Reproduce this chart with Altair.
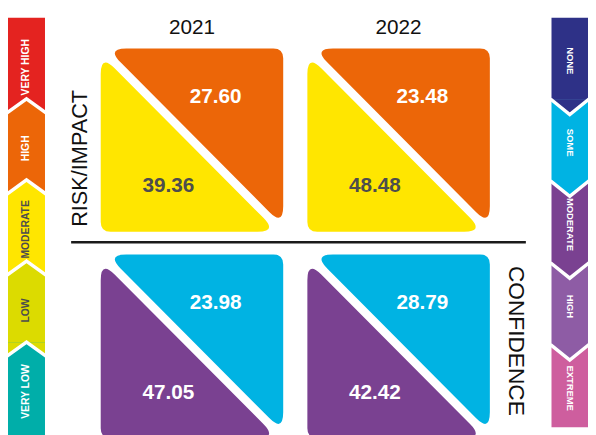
import math
import altair as alt
import pandas as pd

# ---------------- data ----------------
years = ["2021", "2022"]
metrics = ["RISK/IMPACT", "CONFIDENCE"]

cell_year = ["2021", "2022", "2021", "2022"]
cell_metric = ["RISK/IMPACT", "RISK/IMPACT", "CONFIDENCE", "CONFIDENCE"]
upper_vals = [27.60, 23.48, 23.98, 28.79]
lower_vals = [39.36, 48.48, 47.05, 42.42]

left_levels = ["VERY HIGH", "HIGH", "MODERATE", "LOW", "VERY LOW"]
right_levels = ["NONE", "SOME", "MODERATE", "HIGH", "EXTREME"]

# ---------------- styles ----------------
FONT = "Liberation Sans"
ORANGE, YELLOW, CYAN, PURPLE = "#EC6608", "#FFE600", "#00B3E3", "#7A4191"
GRAY = "#4D4D4D"
left_colors = ["#E42320", "#EC6608", "#FFE600", "#DCDB00", "#00AEA9"]
left_text_colors = ["white", "white", GRAY, GRAY, "white"]
right_colors = ["#2E3187", "#00B3E3", "#7A4191", "#8E5CA5", "#CE5E9E"]

W, H = 588, 427
HW, HH, GAP = 92.5, 93.0, 6.0


def rpath(pts, ts):
    n = len(pts)
    segs = []
    for i in range(n):
        px, py = pts[i]
        qx, qy = pts[i - 1]
        nx, ny = pts[(i + 1) % n]
        t = ts[i]
        d1 = math.hypot(qx - px, qy - py)
        d2 = math.hypot(nx - px, ny - py)
        a = (px + (qx - px) / d1 * t, py + (qy - py) / d1 * t)
        b = (px + (nx - px) / d2 * t, py + (ny - py) / d2 * t)
        segs.append((a, (px, py), b))
    f = lambda p: f"{p[0]:.2f} {p[1]:.2f}"
    s = f"M {f(segs[0][2])}"
    for i in range(1, n + 1):
        a, p, b = segs[i % n]
        s += f" L {f(a)} Q {f(p)} {f(b)}"
    return s + " Z"


upper_tri = rpath([(-HW + GAP, -HH), (HW, -HH), (HW, HH - GAP)], [20, 10, 20])
lower_tri = rpath([(-HW, -HH + GAP), (-HW, HH), (HW - GAP, HH)], [20, 10, 20])

cells = pd.DataFrame({"year": cell_year, "metric": cell_metric,
                      "upper": upper_vals, "lower": lower_vals})

xs = alt.X("year:N", scale=alt.Scale(type="point", domain=years, range=[186.5, 396.0], padding=0), axis=None)
ys = alt.Y("metric:N", scale=alt.Scale(type="point", domain=metrics, range=[131.0, 340.0], padding=0), axis=None)

pt = dict(size=4, filled=True, opacity=1, strokeWidth=0)

up_tri = alt.Chart(cells).mark_point(shape=upper_tri, **pt).encode(
    x=xs, y=ys,
    color=alt.Color("metric:N", scale=alt.Scale(domain=metrics, range=[ORANGE, CYAN]), legend=None))
lo_tri = alt.Chart(cells).mark_point(shape=lower_tri, **pt).encode(
    x=xs, y=ys,
    color=alt.Color("metric:N", scale=alt.Scale(domain=metrics, range=[YELLOW, PURPLE]), legend=None))

up_txt = alt.Chart(cells).mark_text(font=FONT, fontSize=21, fontWeight="bold", dx=24, dy=-44,
                                    color="white", baseline="middle").encode(
    x=xs, y=ys, text=alt.Text("upper:Q", format=".2f"))
lo_txt = alt.Chart(cells).mark_text(font=FONT, fontSize=21, fontWeight="bold", dx=-24, dy=47,
                                    baseline="middle").encode(
    x=xs, y=ys, text=alt.Text("lower:Q", format=".2f"),
    color=alt.Color("metric:N", scale=alt.Scale(domain=metrics, range=[GRAY, "white"]), legend=None))

yr_txt = alt.Chart(pd.DataFrame({"year": years})).mark_text(
    font=FONT, fontSize=21, color="#111111", baseline="middle").encode(
    x=xs, y=alt.value(17.5), text="year:N")

met_df = pd.DataFrame({"metric": metrics})
risk_lbl = alt.Chart(met_df).transform_filter(
    alt.FieldEqualPredicate(field="metric", equal=metrics[0])).mark_text(
    font=FONT, fontSize=22, angle=270, color="#111111", baseline="middle", yOffset=18.5).encode(
    x=alt.value(73.5), y=ys, text="metric:N")
conf_lbl = alt.Chart(met_df).transform_filter(
    alt.FieldEqualPredicate(field="metric", equal=metrics[1])).mark_text(
    font=FONT, fontSize=23, angle=90, color="#111111", baseline="middle", yOffset=-5.5).encode(
    x=alt.value(514.5), y=ys, text="metric:N")

rule = alt.Chart(met_df.head(1)).mark_rule(color="#1A1A1A", strokeWidth=2.5).encode(
    x=alt.value(64), x2=alt.value(525), y=alt.value(234.5))

# ---------------- left bar ----------------
L_RANGE = [7, 418]
LSTEP = (L_RANGE[1] - L_RANGE[0]) / len(left_levels)
LX, LHW, LDEP = 18.75, 18.75, 13.5
left_df = pd.DataFrame({"level": left_levels})
lscale = alt.Scale(type="band", domain=left_levels, range=L_RANGE, paddingInner=0, paddingOuter=0)
lcol = alt.Color("level:N", scale=alt.Scale(domain=left_levels, range=left_colors), legend=None)
not_last_l = alt.FieldOneOfPredicate(field="level", oneOf=left_levels[:-1])

l_seg = alt.Chart(left_df).mark_point(
    shape=f"M {-LHW} {-LSTEP/2:.2f} H {LHW} V {LSTEP/2 + 16:.2f} H {-LHW} Z", **pt).encode(
    x=alt.value(LX), y=alt.Y("level:N", scale=lscale, axis=None), color=lcol)
l_ears = alt.Chart(left_df).transform_filter(not_last_l).mark_point(
    shape=f"M {-LHW} 0 L {LHW} 0 L {LHW} {LDEP} L 0 0 L {-LHW} {LDEP} Z", **pt).encode(
    x=alt.value(LX), y=alt.Y("level:N", scale=lscale, axis=None, bandPosition=1), color=lcol)
l_chev = alt.Chart(left_df).transform_filter(not_last_l).mark_point(
    shape=f"M {-LHW-1} {LDEP + 0.7} L 0 0 L {LHW+1} {LDEP + 0.7}", size=4, filled=False, opacity=1,
    strokeWidth=3.5, color="white").encode(
    x=alt.value(LX), y=alt.Y("level:N", scale=lscale, axis=None, bandPosition=1))
l_txt = alt.Chart(left_df).mark_text(font=FONT, fontSize=10.5, fontWeight="bold", angle=270,
                                     baseline="middle", yOffset=9).encode(
    x=alt.value(LX), y=alt.Y("level:N", scale=lscale, axis=None), text="level:N",
    color=alt.Color("level:N", scale=alt.Scale(domain=left_levels, range=left_text_colors), legend=None))

# ---------------- right bar ----------------
R_RANGE = [7, 422]
RSTEP = (R_RANGE[1] - R_RANGE[0]) / len(right_levels)
RX, RHW, RDEP = 569.5, 18.5, 15
right_df = pd.DataFrame({"level": right_levels})
rscale = alt.Scale(type="band", domain=right_levels, range=R_RANGE, paddingInner=0, paddingOuter=0)
rcol = alt.Color("level:N", scale=alt.Scale(domain=right_levels, range=right_colors), legend=None)
not_last_r = alt.FieldOneOfPredicate(field="level", oneOf=right_levels[:-1])

r_seg = alt.Chart(right_df).mark_point(
    shape=f"M {-RHW} {-RSTEP/2:.2f} H {RHW} V {RSTEP/2:.2f} H {-RHW} Z", **pt).encode(
    x=alt.value(RX), y=alt.Y("level:N", scale=rscale, axis=None), color=rcol)
r_tips = alt.Chart(right_df).transform_filter(not_last_r).mark_point(
    shape=f"M {-RHW} -0.5 L {RHW} -0.5 L 0 {RDEP} Z", **pt).encode(
    x=alt.value(RX), y=alt.Y("level:N", scale=rscale, axis=None, bandPosition=1), color=rcol)
r_chev = alt.Chart(right_df).transform_filter(not_last_r).mark_point(
    shape=f"M {-RHW-1} -0.7 L 0 {RDEP} L {RHW+1} -0.7", size=4, filled=False, opacity=1,
    strokeWidth=3.5, color="white").encode(
    x=alt.value(RX), y=alt.Y("level:N", scale=rscale, axis=None, bandPosition=1))
r_txt = alt.Chart(right_df).mark_text(font=FONT, fontSize=9.5, fontWeight="bold", angle=90,
                                      baseline="middle", color="white", yOffset=2).encode(
    x=alt.value(RX), y=alt.Y("level:N", scale=rscale, axis=None), text="level:N")

chart = alt.layer(
    up_tri, lo_tri, up_txt, lo_txt, yr_txt, risk_lbl, conf_lbl, rule,
    l_seg, l_ears, l_chev, l_txt,
    r_seg, r_tips, r_chev, r_txt,
).resolve_scale(
    x="independent", y="independent", color="independent"
).properties(
    width=W, height=H, padding=0, autosize=alt.AutoSizeParams(type="none")
).configure_view(stroke=None)

chart.save("out.html", embed_options={"renderer": "svg", "actions": False})
